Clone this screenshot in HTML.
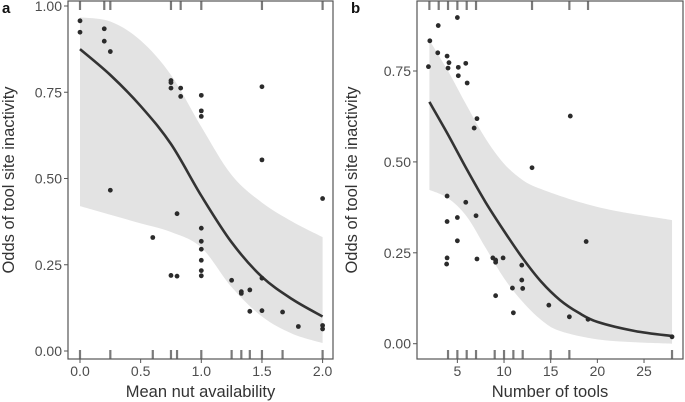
<!DOCTYPE html>
<html><head><meta charset="utf-8">
<style>
html,body{margin:0;padding:0;background:#fff;}
svg{display:block;font-family:"Liberation Sans",Arial,sans-serif;}
</style></head>
<body>
<svg id="chart" width="685" height="402" viewBox="0 0 685 402"></svg>
<script>
// ---- Panel a data ----
const aPointsX = [0,0,0.2,0.2,0.25,0.25,0.6,0.75,0.75,0.75,0.83,0.83,0.8,0.75,0.8,1,1,1,1,1,1,1,1,1,1.25,1.33,1.33,1.4,1.4,1.5,1.5,1.5,1.5,1.67,1.8,2,2,2];
const aPointsY = [0.957,0.924,0.934,0.898,0.868,0.466,0.329,0.784,0.778,0.762,0.762,0.738,0.398,0.219,0.217,0.741,0.696,0.680,0.356,0.318,0.295,0.263,0.233,0.218,0.205,0.172,0.167,0.177,0.115,0.766,0.554,0.211,0.117,0.113,0.071,0.442,0.074,0.064];
const aCurveX = [0,0.25,0.5,0.75,1.0,1.25,1.5,1.75,2.0];
const aCurveY = [0.875,0.80,0.71,0.60,0.45,0.315,0.215,0.15,0.10];
const aBandX = [0,0.25,0.5,0.75,1.0,1.25,1.5,1.75,2.0];
const aBandUpper = [0.967,0.955,0.90,0.80,0.65,0.51,0.43,0.375,0.33];
const aBandLower = [0.42,0.395,0.37,0.345,0.30,0.185,0.10,0.05,0.023];
const aRugTop = [0,0.2,0.25,0.75,0.83,1.0,1.5,2.0];
const aRugBottom = [0,0.25,0.6,0.75,0.8,1.0,1.25,1.33,1.4,1.5,1.67,2.0];
const aXTicks = [0,0.5,1,1.5,2];
const aXTickLabels = ["0.0","0.5","1.0","1.5","2.0"];
const aYTicks = [0,0.25,0.5,0.75,1];
const aYTickLabels = ["0.00","0.25","0.50","0.75","1.00"];

// ---- Panel b data ----
const bPointsX = [1.9,2.05,2.9,2.95,3.9,4.1,4.0,3.9,3.9,3.9,3.85,5.0,5.1,5.1,5.0,5.0,5.9,6.05,5.9,7.1,6.8,7.0,7.1,8.8,9.1,9.1,9.1,9.9,10.9,11.0,11.9,11.9,12.0,13.0,14.8,17.1,17.0,18.8,19.0,28];
const bPointsY = [0.762,0.833,0.80,0.875,0.791,0.773,0.758,0.406,0.336,0.236,0.219,0.897,0.76,0.737,0.347,0.283,0.771,0.717,0.389,0.619,0.593,0.352,0.233,0.236,0.23,0.224,0.132,0.236,0.153,0.085,0.216,0.175,0.152,0.484,0.106,0.626,0.074,0.281,0.067,0.019];
const bCurveX = [2,4,6,8,10,12,14,16,18,20,24,28];
const bCurveY = [0.665,0.575,0.48,0.39,0.31,0.235,0.17,0.12,0.085,0.06,0.035,0.021];
const bUpperX = [2,4,6,8,10,12,14,18,22,28];
const bUpperY = [0.835,0.75,0.655,0.565,0.495,0.45,0.425,0.39,0.365,0.34];
const bLowerX = [2,4,6,8,10,12,14,16,20,24,28];
const bLowerY = [0.423,0.40,0.35,0.265,0.18,0.115,0.065,0.035,0.012,0.004,0.0];
const bRugTop = [2,3,4,5,6,7,13,17,19];
const bRugBottom = [4,5,6,7,9,10,11,12,15,17,28];
const bXTicks = [5,10,15,20,25];
const bXTickLabels = ["5","10","15","20","25"];
const bYTicks = [0,0.25,0.5,0.75];
const bYTickLabels = ["0.00","0.25","0.50","0.75"];

const NS = "http://www.w3.org/2000/svg";
const svg = document.getElementById('chart');
function mk(tag, attrs, parent){
  const e = document.createElementNS(NS, tag);
  for (const k in attrs) e.setAttribute(k, attrs[k]);
  (parent||svg).appendChild(e);
  return e;
}
function smoothSegs(pts){
  let d = "";
  for (let i=0;i<pts.length-1;i++){
    const p0 = pts[Math.max(0,i-1)], p1 = pts[i], p2 = pts[i+1], p3 = pts[Math.min(pts.length-1,i+2)];
    const c1x = p1[0]+(p2[0]-p0[0])/6, c1y = p1[1]+(p2[1]-p0[1])/6;
    const c2x = p2[0]-(p3[0]-p1[0])/6, c2y = p2[1]-(p3[1]-p1[1])/6;
    d += " C"+c1x.toFixed(2)+","+c1y.toFixed(2)+" "+c2x.toFixed(2)+","+c2y.toFixed(2)+" "+p2[0].toFixed(2)+","+p2[1].toFixed(2);
  }
  return d;
}
function smoothPath(pts){
  return "M" + pts[0][0].toFixed(2) + "," + pts[0][1].toFixed(2) + smoothSegs(pts);
}

function panel(cfg){
  const g = mk('g', {});
  
  
  const X = v => cfg.x0 + (v - cfg.xmin) * cfg.xs;
  const Y = v => cfg.y0 - v * cfg.ys;

  const up = cfg.upX.map((v,i)=>[X(v),Y(cfg.upY[i])]);
  const lo = cfg.loX.map((v,i)=>[X(v),Y(cfg.loY[i])]).reverse();
  const d = smoothPath(up) + " L" + lo[0][0].toFixed(2) + "," + lo[0][1].toFixed(2) + smoothSegs(lo) + " Z";
  const band = mk('path', {d: d, fill: '#e3e3e3', stroke: 'none'}, g);
  
  

  cfg.rugTop.forEach(v=>{
    const r = mk('line', {x1:X(v), x2:X(v), y1:cfg.top, y2:cfg.top+9, stroke:'#7a7a7a','stroke-width':2.2}, g);
    
    
  });
  cfg.rugBottom.forEach(v=>{
    const r = mk('line', {x1:X(v), x2:X(v), y1:cfg.bottom-9, y2:cfg.bottom, stroke:'#7a7a7a','stroke-width':2.2}, g);
    
    
  });

  const cp = cfg.cX.map((v,i)=>[X(v),Y(cfg.cY[i])]);
  const curve = mk('path', {d: smoothPath(cp), fill:'none', stroke:'#333', 'stroke-width':2.6}, g);
  
  

  cfg.px.forEach((v,i)=>{
    const c = mk('circle', {cx:X(v), cy:Y(cfg.py[i]), r:2.4, fill:'#2b2b2b'}, g);
    
    
  });

  const fr = mk('rect', {x:cfg.left, y:cfg.top, width:cfg.right-cfg.left, height:cfg.bottom-cfg.top, fill:'none', stroke:'#555', 'stroke-width':1.2}, g);
  
  

  cfg.yTicks.forEach((v,i)=>{
    mk('line', {x1:cfg.left-4, x2:cfg.left, y1:Y(v), y2:Y(v), stroke:'#555','stroke-width':1}, g);
    const t = mk('text', {x:cfg.left-6, y:Y(v)+5, 'text-anchor':'end', 'font-size':14, fill:'#4d4d4d'}, g);
    t.textContent = cfg.yLabels[i];
    
    
  });
  cfg.xTicks.forEach((v,i)=>{
    mk('line', {x1:X(v), x2:X(v), y1:cfg.bottom, y2:cfg.bottom+4, stroke:'#555','stroke-width':1}, g);
    const t = mk('text', {x:X(v), y:cfg.bottom+17, 'text-anchor':'middle', 'font-size':14, fill:'#4d4d4d'}, g);
    t.textContent = cfg.xLabels[i];
    
    
  });
  const xt = mk('text', {x:(cfg.left+cfg.right)/2, y:397, 'text-anchor':'middle', 'font-size':16.5, fill:'#333'}, g);
  xt.textContent = cfg.xTitle;
  
  
  const yt = mk('text', {x:0, y:0, 'text-anchor':'middle', 'font-size':16.5, fill:'#333', transform:'translate('+cfg.yTitleX+','+((cfg.top+cfg.bottom)/2)+') rotate(-90)'}, g);
  yt.textContent = 'Odds of tool site inactivity';
  
  
  const lt = mk('text', {x:cfg.letterX, y:13, 'font-size':15, 'font-weight':'bold', fill:'#111'}, g);
  lt.textContent = cfg.letter;
  
  
}

panel({name:'panel-a', left:68, right:333, top:1, bottom:359, x0:80, xmin:0, xs:121.3, y0:351, ys:345,
  px:aPointsX, py:aPointsY, cX:aCurveX, cY:aCurveY, upX:aBandX, upY:aBandUpper, loX:aBandX, loY:aBandLower,
  rugTop:aRugTop, rugBottom:aRugBottom, xTicks:aXTicks, xLabels:aXTickLabels, yTicks:aYTicks, yLabels:aYTickLabels,
  xTitle:'Mean nut availability', yTitleX:14, letter:'a', letterX:2});
panel({name:'panel-b', left:417, right:683, top:1, bottom:359, x0:410.7, xmin:0, xs:9.333, y0:343.7, ys:363.6,
  px:bPointsX, py:bPointsY, cX:bCurveX, cY:bCurveY, upX:bUpperX, upY:bUpperY, loX:bLowerX, loY:bLowerY,
  rugTop:bRugTop, rugBottom:bRugBottom, xTicks:bXTicks, xLabels:bXTickLabels, yTicks:bYTicks, yLabels:bYTickLabels,
  xTitle:'Number of tools', yTitleX:357, letter:'b', letterX:351});
</script>
</body></html>
